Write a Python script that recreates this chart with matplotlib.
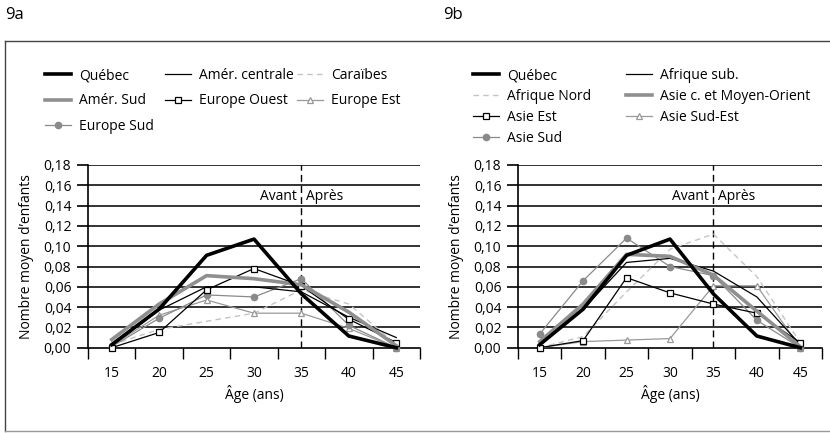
import matplotlib
matplotlib.use("Agg")
import matplotlib.pyplot as plt
from matplotlib.lines import Line2D

plt.rcParams["font.family"] = ["Open Sans", "DejaVu Sans"]
plt.rcParams["font.size"] = 10

ages = ["15", "20", "25", "30", "35", "40", "45"]
yticks = [0.00, 0.02, 0.04, 0.06, 0.08, 0.10, 0.12, 0.14, 0.16, 0.18]

quebec = [0.003, 0.038, 0.091, 0.107, 0.053, 0.0115, 0.0]

# 9a
amer_centrale = [0.002, 0.037, 0.060, 0.060, 0.055, 0.030, 0.010]
caraibes = [0.003, 0.018, 0.026, 0.034, 0.057, 0.043, 0.003]
amer_sud = [0.008, 0.043, 0.071, 0.068, 0.062, 0.035, 0.002]
europe_ouest = [0.000, 0.015, 0.057, 0.078, 0.061, 0.028, 0.005]
europe_est = [0.002, 0.032, 0.047, 0.034, 0.034, 0.019, 0.000]
europe_sud = [0.001, 0.029, 0.052, 0.050, 0.068, 0.022, 0.000]

# 9b
afrique_sub = [0.003, 0.038, 0.084, 0.088, 0.0755, 0.050, 0.003]
afrique_nord = [0.000, 0.011, 0.055, 0.097, 0.112, 0.070, 0.005]
asie_centrale = [0.006, 0.043, 0.092, 0.090, 0.0715, 0.036, 0.001]
asie_est = [0.000, 0.007, 0.069, 0.054, 0.043, 0.034, 0.005]
asie_sud_est = [0.000, 0.006, 0.0075, 0.009, 0.061, 0.061, 0.000]
asie_sud = [0.0135, 0.066, 0.108, 0.080, 0.071, 0.027, 0.000]

# style per role: thick black, thin black, dashed light, thick gray, squares, triangles, circles
STYLES = {
    "thick_black": dict(color="black", lw=2.6),
    "thin_black": dict(color="black", lw=0.9),
    "dashed": dict(color="#c4c4c4", lw=1.0, dashes=(4, 3)),
    "thick_gray": dict(color="#8f8f8f", lw=2.6),
    "square": dict(color="black", lw=0.9, marker="s", ms=5, mfc="white", mec="black", mew=0.9),
    "triangle": dict(color="#999999", lw=0.9, marker="^", ms=5, mfc="white", mec="#999999", mew=0.9),
    "circle": dict(color="#8a8a8a", lw=0.9, marker="o", ms=4.5, mfc="#8a8a8a", mec="#8a8a8a"),
}

fig = plt.figure(figsize=(8.3, 4.33), dpi=100)
W, H = 830, 433


def px_axes(x0, x1, ytop, ybot):
    return fig.add_axes([x0 / W, (H - ybot) / H, (x1 - x0) / W, (ybot - ytop) / H])


def draw_panel(ax, series):
    x = list(range(len(ages)))
    for key in ["dashed", "triangle", "circle", "thin_black", "square", "thick_gray", "thick_black"]:
        ax.plot(x, series[key][1], **STYLES[key], zorder=3, clip_on=False)
    ax.set_xlim(-0.5, len(ages) - 0.5)
    ax.set_ylim(0, 0.18)
    ax.set_yticks(yticks)
    ax.set_yticklabels([f"{v:.2f}".replace(".", ",") for v in yticks])
    ax.set_xticks(x)
    ax.set_xticklabels(ages)
    ax.set_xticks([i - 0.5 for i in range(len(ages) + 1)], minor=True)
    ax.tick_params(axis="x", which="major", length=0, pad=13)
    ax.tick_params(axis="x", which="minor", length=8, width=1, direction="out")
    ax.tick_params(axis="y", length=8, width=1.2, direction="out", pad=4)
    for v in yticks[1:]:
        ax.axhline(v, color="#222222", lw=1.3, zorder=1)
    for s in ["top", "right"]:
        ax.spines[s].set_visible(False)
    ax.spines["left"].set_linewidth(1.2)
    ax.spines["bottom"].set_linewidth(1.2)
    ax.axvline(4, color="black", lw=1, dashes=(5, 3), zorder=2)
    ax.text(3.9, 0.149, "Avant", ha="right", va="center")
    ax.text(4.1, 0.149, "Après", ha="left", va="center")
    ax.set_xlabel("Âge (ans)", labelpad=3)
    ax.set_ylabel("Nombre moyen d’enfants", labelpad=7)


def add_column(labels, keys, x, y, spacing):
    handles = [Line2D([], [], **STYLES[k]) for k in keys]
    fig.legend(handles, labels, loc="upper left", bbox_to_anchor=(x / W, (H - y) / H),
               frameon=False, handlelength=1.9, handletextpad=0.55,
               labelspacing=spacing, borderpad=0, borderaxespad=0)


series_a = {
    "thick_black": ("Québec", quebec),
    "thin_black": ("Amér. centrale", amer_centrale),
    "dashed": ("Caraïbes", caraibes),
    "thick_gray": ("Amér. Sud", amer_sud),
    "square": ("Europe Ouest", europe_ouest),
    "triangle": ("Europe Est", europe_est),
    "circle": ("Europe Sud", europe_sud),
}
series_b = {
    "thick_black": ("Québec", quebec),
    "thin_black": ("Afrique sub.", afrique_sub),
    "dashed": ("Afrique Nord", afrique_nord),
    "thick_gray": ("Asie c. et Moyen-Orient", asie_centrale),
    "square": ("Asie Est", asie_est),
    "triangle": ("Asie Sud-Est", asie_sud_est),
    "circle": ("Asie Sud", asie_sud),
}

ax1 = px_axes(88, 420, 165, 347.7)
draw_panel(ax1, series_a)
ax2 = px_axes(518, 822, 165, 347.7)
draw_panel(ax2, series_b)

# legends, one column at a time
cols_a = [(["thick_black", "thick_gray", "circle"], 45),
          (["thin_black", "square"], 165),
          (["dashed", "triangle"], 297)]
for keys, x in cols_a:
    add_column([series_a[k][0] for k in keys], keys, x, 68, 0.75)
cols_b = [(["thick_black", "dashed", "square", "circle"], 473),
          (["thin_black", "thick_gray", "triangle"], 626)]
for keys, x in cols_b:
    add_column([series_b[k][0] for k in keys], keys, x, 68, 0.42)

fig.text(5 / W, 1 - 15 / H, "9a", ha="left", va="center", fontsize=12)
fig.text(443 / W, 1 - 15 / H, "9b", ha="left", va="center", fontsize=12)

# frame
fig.add_artist(Line2D([5 / W, 1], [1 - 41 / H] * 2, color="#444444", lw=1))
fig.add_artist(Line2D([5 / W] * 2, [1 - 41 / H, 1 - 431 / H], color="#444444", lw=1))
fig.add_artist(Line2D([5 / W, 1], [1 - 431 / H] * 2, color="#999999", lw=1))

fig.savefig("out.png", dpi=100)
